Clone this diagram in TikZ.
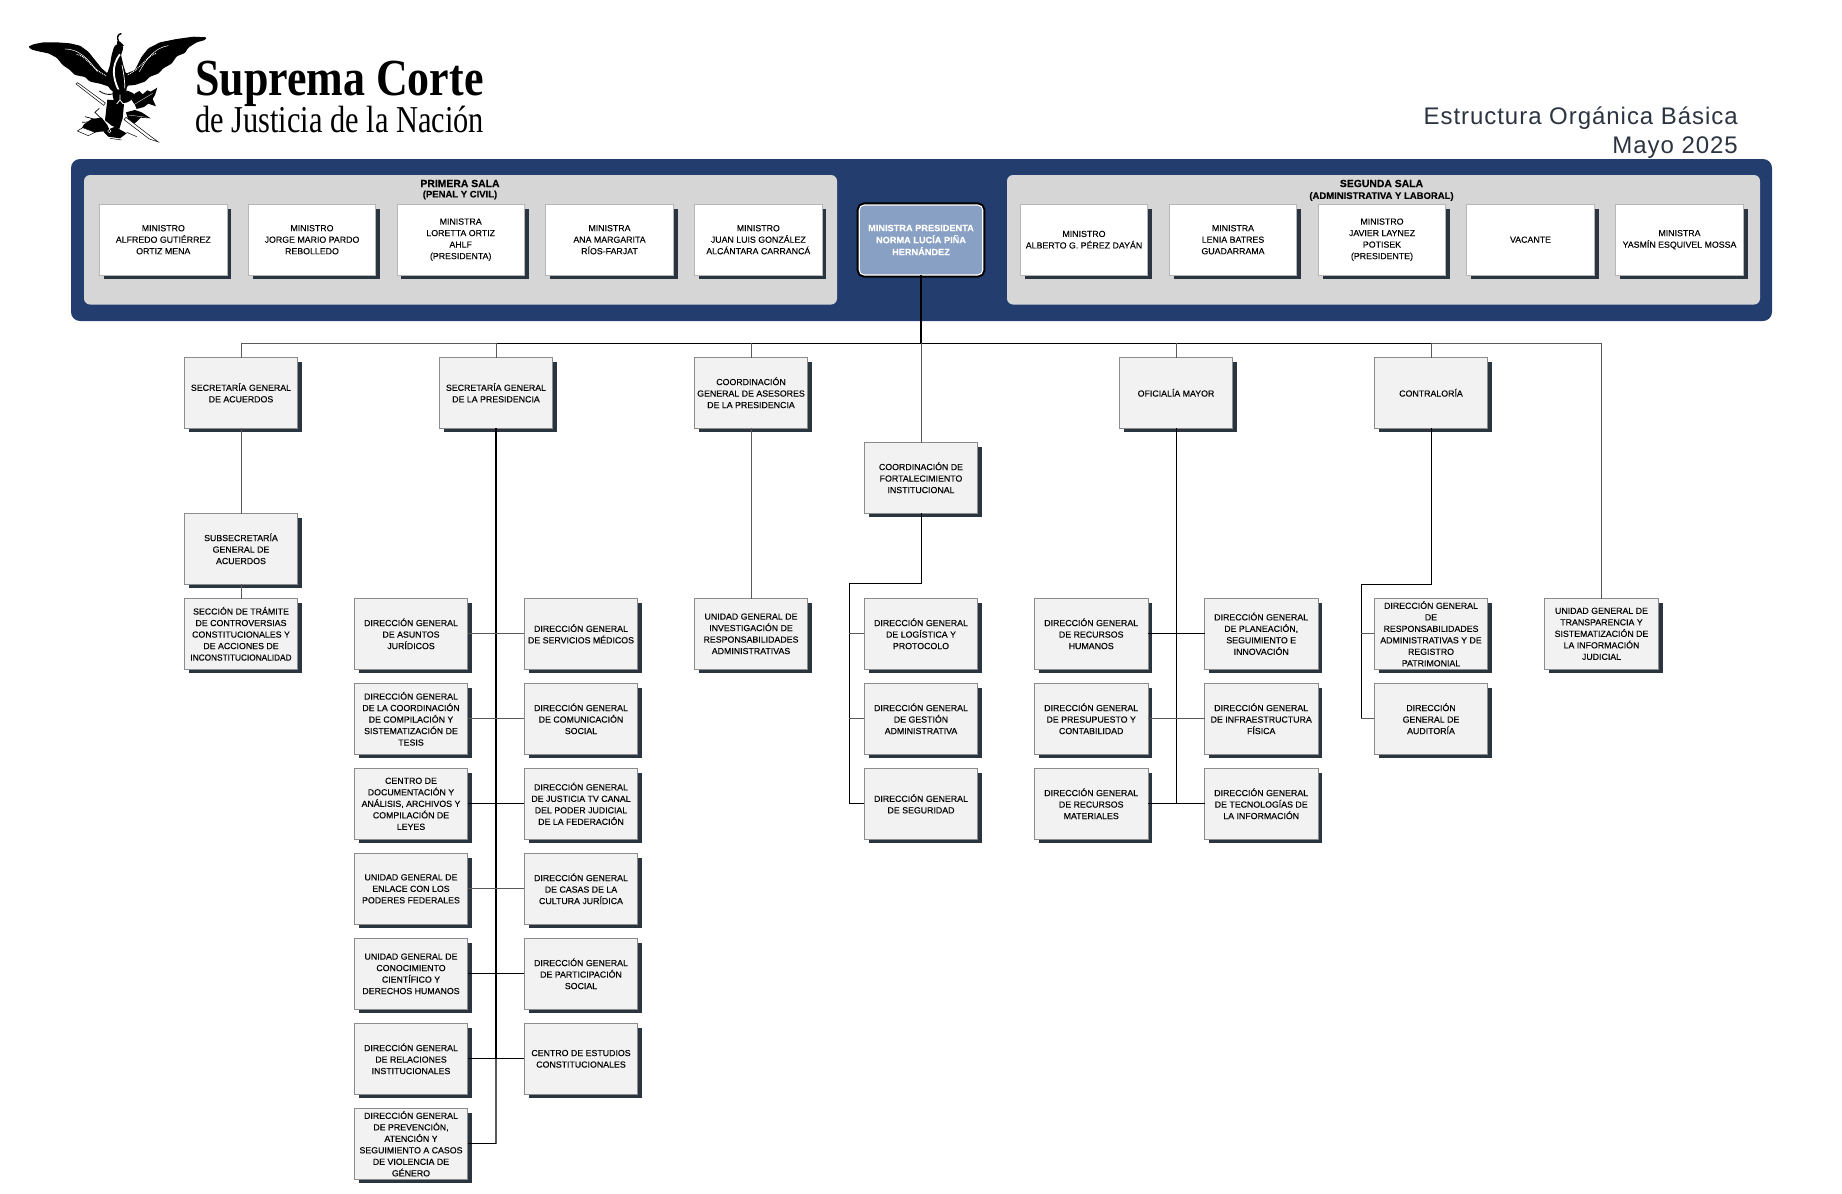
\documentclass[tikz,border=0pt]{standalone}
\usepackage{fontspec}
\usepackage{graphicx}
\setmainfont[FakeBold=0.06]{Liberation Sans}
\newfontfamily\serifbrand{Liberation Serif}
\newfontfamily\headfont[LetterSpace=4]{Liberation Sans}
\usetikzlibrary{shadows}
\definecolor{navy}{HTML}{243D6F}
\definecolor{panel}{HTML}{D6D6D6}
\definecolor{boxfill}{HTML}{F2F2F2}
\definecolor{boxline}{HTML}{8C8C8C}
\definecolor{shadowc}{HTML}{2A3540}
\definecolor{presfill}{HTML}{87A0C4}
\definecolor{headc}{HTML}{2B3440}
\definecolor{lnk}{HTML}{5A5A5A}
\tikzset{
  x=1pt,y=-1pt,
  lbl/.style={align=center,font=\fontsize{8.8}{11.5}\selectfont,text=black,inner sep=0pt,outer sep=0pt},
  orgbox/.style={lbl,rectangle,draw=boxline,line width=.8pt,fill=boxfill,minimum width=113.4pt,minimum height=70.4pt,
    general shadow={shadow xshift=4.3pt,shadow yshift=-4.3pt,fill=shadowc}},
  minbox/.style={orgbox,fill=white,draw=panel!85!black,minimum width=127.4pt},
  presbox/.style={align=center,font=\fontsize{9.2}{12}\selectfont\bfseries,text=white,rectangle,rounded corners=5pt,
    fill=presfill,draw=white,line width=1.1pt,minimum width=123.5pt,minimum height=70pt,inner sep=0pt,outer sep=0pt,
    preaction={draw=black,line width=5.2pt}},
  salatitle/.style={align=center,inner sep=0pt,font=\fontsize{10.4}{12}\selectfont\bfseries},
  salasub/.style={align=center,inner sep=0pt,font=\fontsize{9.5}{11}\selectfont\bfseries},
  thinlink/.style={draw=lnk,line width=1pt},
  darklink/.style={draw=black,line width=1pt},
  trunklink/.style={draw=black,line width=1.7pt},
}
\begin{document}
\begin{tikzpicture}
\useasboundingbox (0,0) rectangle (1842,1194);
% --- eagle
\begin{scope}[shift={(20,25)},x=.3333pt,y=-.3333pt]
 \fill[black,rounded corners=1pt] (25,65) -- (40,58) -- (70,52) -- (110,52) -- (150,55) -- (180,62) -- (205,80) -- (225,105) -- (245,130) -- (262,145) -- (270,120) -- (275,90) -- (282,66) -- (290,58) -- (306,58) -- (310,70) -- (303,90) -- (310,120) -- (318,146) -- (345,135) -- (365,95) -- (385,70) -- (420,52) -- (470,42) -- (520,35) -- (560,37) -- (555,45) -- (530,52) -- (505,68) -- (495,84) -- (470,94) -- (455,116) -- (430,130) -- (415,146) -- (390,155) -- (375,170) -- (345,180) -- (322,182) -- (318,200) -- (290,205) -- (272,195) -- (265,184) -- (240,176) -- (210,170) -- (195,156) -- (165,150) -- (150,135) -- (128,120) -- (110,98) -- (85,85) -- (60,80) -- (35,74) -- cycle;
 \draw[line width=1.4pt,line cap=round] (296,50) .. controls (290,38) and (293,28) .. (303,26);
 \fill (292,48) -- (300,50) -- (312,62) -- (290,66) -- cycle;
 \draw[white,line width=1.8pt] (300,88) .. controls (272,125) and (280,160) .. (296,196);
 \draw[white,line width=.7pt] (306,120) .. controls (312,150) and (315,170) .. (314,190);
 \draw[white,line width=1.1pt,dash pattern=on .9pt off 1pt] (170,88) .. controls (200,92) and (212,130) .. (258,152);
 \draw[white,line width=1.1pt,dash pattern=on .9pt off 1pt] (408,85) .. controls (380,92) and (365,130) .. (322,150);
 \draw[white,line width=.5pt] (135,72) .. controls (175,72) and (205,100) .. (232,140);
 \draw[white,line width=.5pt] (445,62) .. controls (405,68) and (380,100) .. (358,140);
 \draw[line width=.5pt,fill=white] (168,177) -- (173,173) -- (256,234) -- (251,241) -- cycle;
 \draw[line width=.8pt] (238,198) .. controls (262,215) and (285,208) .. (296,198);
 \fill plot[smooth cycle,tension=.5] coordinates {(280,195)(325,198)(345,212)(322,232)(285,232)};
 \fill (335,225) -- (345,205) -- (358,198) -- (368,208) -- (382,196) -- (392,200) -- (412,188) -- (405,210) -- (398,222) -- (408,244) -- (385,236) -- (372,246) -- (350,252) -- (345,240) -- cycle;
 \draw[white,line width=.3pt] (340,240) -- (398,205);
 \fill (262,224) -- (292,226) -- (312,238) -- (308,280) -- (298,312) -- (275,302) -- (255,286) -- cycle;
 \draw[white,line width=.8pt] (300,209) -- (300,225) (300,225) -- (290,237) (300,225) -- (310,237);
 \fill (318,262) -- (345,255) -- (365,262) -- (392,280) -- (362,278) -- (350,290) -- (335,302) -- (325,285) -- cycle;
 \draw[white,line width=.3pt] (325,270) -- (380,277);
 \draw[line width=.5pt,fill=white] (312,284) -- (318,277) -- (392,334) -- (415,351) -- (388,342) -- cycle;
 \fill (180,318) -- (192,298) -- (215,282) -- (245,278) -- (262,300) -- (270,318) -- (240,320) -- (210,325) -- cycle;
 \draw[line width=.7pt] (245,282) -- (225,262) -- (238,250) (232,285) -- (195,275) (222,290) -- (186,292);
 \draw[line width=.5pt,fill=white] (172,318) -- (188,308) -- (225,322) -- (205,332) -- cycle;
 \fill (250,320) -- (285,305) -- (320,325) -- (300,340) -- (265,335) -- cycle;
 \draw[white,line width=.4pt] (268,318) circle (5);
 \draw[line width=.5pt] (270,340) -- (305,345) (320,322) -- (350,335);
\end{scope}
% --- brand
\node[anchor=base west,inner sep=0pt,font=\fontsize{52}{52}\serifbrand\bfseries] (brandA) at (195,95) {\scalebox{.845}[1]{Suprema Corte}};
\node[anchor=base west,inner sep=0pt,font=\fontsize{38}{38}\serifbrand] (brandB) at (195,132) {\scalebox{.80}[1]{de Justicia de la Nación}};
\node[anchor=base east,inner sep=0pt,text=headc,font=\fontsize{24}{24}\headfont] (headA) at (1738,124) {Estructura Orgánica Básica};
\node[anchor=base east,inner sep=0pt,text=headc,font=\fontsize{24}{24}\headfont] (headB) at (1738,153) {Mayo 2025};
% --- band
\fill[navy,rounded corners=9pt] (71,159) rectangle (1772,321);
\fill[panel,rounded corners=6pt] (84,175) rectangle (837,304.5);
\fill[panel,rounded corners=6pt] (1007,175) rectangle (1760,304.5);
\node[salatitle] (salaA) at (460,183.5) {PRIMERA SALA};
\node[salasub] (salaAs) at (460,195) {(PENAL Y CIVIL)};
\node[salatitle] (salaB) at (1381.5,183.5) {SEGUNDA SALA};
\node[salasub] (salaBs) at (1381.5,196.5) {(ADMINISTRATIVA Y LABORAL)};
\node[minbox] (m1) at (163.3,239.7) {MINISTRO\\ALFREDO GUTIÉRREZ\\ORTIZ MENA};
\node[minbox] (m2) at (312,239.7) {MINISTRO\\JORGE MARIO PARDO\\REBOLLEDO};
\node[minbox] (m3) at (460.7,239.7) {MINISTRA\\LORETTA ORTIZ\\AHLF\\(PRESIDENTA)};
\node[minbox] (m4) at (609.5,239.7) {MINISTRA\\ANA MARGARITA\\RÍOS-FARJAT};
\node[minbox] (m5) at (758.3,239.7) {MINISTRO\\JUAN LUIS GONZÁLEZ\\ALCÁNTARA CARRANCÁ};
\node[presbox] (pres) at (921,240) {MINISTRA PRESIDENTA\\NORMA LUCÍA PIÑA\\HERNÁNDEZ};
\node[minbox] (m6) at (1084,239.7) {MINISTRO\\ALBERTO G. PÉREZ DAYÁN};
\node[minbox] (m7) at (1233,239.7) {MINISTRA\\LENIA BATRES\\GUADARRAMA};
\node[minbox] (m8) at (1382,239.7) {MINISTRO\\JAVIER LAYNEZ\\POTISEK\\(PRESIDENTE)};
\node[minbox] (m9) at (1530.5,239.7) {VACANTE};
\node[minbox] (m10) at (1679.5,239.7) {MINISTRA\\YASMÍN ESQUIVEL MOSSA};
% --- row 1
\node[orgbox] (sga) at (241,392.8) {SECRETARÍA GENERAL\\DE ACUERDOS};
\node[orgbox] (sp) at (496,392.8) {SECRETARÍA GENERAL\\DE LA PRESIDENCIA};
\node[orgbox] (cg) at (751,392.8) {COORDINACIÓN\\GENERAL DE ASESORES\\DE LA PRESIDENCIA};
\node[orgbox] (of) at (1176,392.8) {OFICIALÍA MAYOR};
\node[orgbox] (con) at (1431,392.8) {CONTRALORÍA};
\node[orgbox] (cf) at (921,477.8) {COORDINACIÓN DE\\FORTALECIMIENTO\\INSTITUCIONAL};
\node[orgbox] (sub) at (241,548.8) {SUBSECRETARÍA\\GENERAL DE\\ACUERDOS};
\node[orgbox] (sec) at (241,633.8) {SECCIÓN DE TRÁMITE\\DE CONTROVERSIAS\\CONSTITUCIONALES Y\\DE ACCIONES DE\\\scalebox{.94}[1]{INCONSTITUCIONALIDAD}};
% --- presidencia, left column
\node[orgbox] (a1) at (411,633.8) {DIRECCIÓN GENERAL\\DE ASUNTOS\\JURÍDICOS};
\node[orgbox] (a2) at (411,718.8) {DIRECCIÓN GENERAL\\DE LA COORDINACIÓN\\DE COMPILACIÓN Y\\SISTEMATIZACIÓN DE\\TESIS};
\node[orgbox] (a3) at (411,803.8) {CENTRO DE\\DOCUMENTACIÓN Y\\ANÁLISIS, ARCHIVOS Y\\COMPILACIÓN DE\\LEYES};
\node[orgbox] (a4) at (411,888.8) {UNIDAD GENERAL DE\\ENLACE CON LOS\\PODERES FEDERALES};
\node[orgbox] (a5) at (411,973.8) {UNIDAD GENERAL DE\\CONOCIMIENTO\\CIENTÍFICO Y\\DERECHOS HUMANOS};
\node[orgbox] (a6) at (411,1058.8) {DIRECCIÓN GENERAL\\DE RELACIONES\\INSTITUCIONALES};
\node[orgbox] (a7) at (411,1143.8) {DIRECCIÓN GENERAL\\DE PREVENCIÓN,\\ATENCIÓN Y\\SEGUIMIENTO A CASOS\\DE VIOLENCIA DE\\GÉNERO};
% --- presidencia, right column
\node[orgbox] (b1) at (581,633.8) {DIRECCIÓN GENERAL\\DE SERVICIOS MÉDICOS};
\node[orgbox] (b2) at (581,718.8) {DIRECCIÓN GENERAL\\DE COMUNICACIÓN\\SOCIAL};
\node[orgbox] (b3) at (581,803.8) {DIRECCIÓN GENERAL\\DE JUSTICIA TV CANAL\\DEL PODER JUDICIAL\\DE LA FEDERACIÓN};
\node[orgbox] (b4) at (581,888.8) {DIRECCIÓN GENERAL\\DE CASAS DE LA\\CULTURA JURÍDICA};
\node[orgbox] (b5) at (581,973.8) {DIRECCIÓN GENERAL\\DE PARTICIPACIÓN\\SOCIAL};
\node[orgbox] (b6) at (581,1058.8) {CENTRO DE ESTUDIOS\\CONSTITUCIONALES};
% --- other columns
\node[orgbox] (ugi) at (751,633.8) {UNIDAD GENERAL DE\\INVESTIGACIÓN DE\\RESPONSABILIDADES\\ADMINISTRATIVAS};
\node[orgbox] (f1) at (921,633.8) {DIRECCIÓN GENERAL\\DE LOGÍSTICA Y\\PROTOCOLO};
\node[orgbox] (f2) at (921,718.8) {DIRECCIÓN GENERAL\\DE GESTIÓN\\ADMINISTRATIVA};
\node[orgbox] (f3) at (921,803.8) {DIRECCIÓN GENERAL\\DE SEGURIDAD};
\node[orgbox] (c1) at (1091.2,633.8) {DIRECCIÓN GENERAL\\DE RECURSOS\\HUMANOS};
\node[orgbox] (c2) at (1091.2,718.8) {DIRECCIÓN GENERAL\\DE PRESUPUESTO Y\\CONTABILIDAD};
\node[orgbox] (c3) at (1091.2,803.8) {DIRECCIÓN GENERAL\\DE RECURSOS\\MATERIALES};
\node[orgbox] (d1) at (1261.2,633.8) {DIRECCIÓN GENERAL\\DE PLANEACIÓN,\\SEGUIMIENTO E\\INNOVACIÓN};
\node[orgbox] (d2) at (1261.2,718.8) {DIRECCIÓN GENERAL\\DE INFRAESTRUCTURA\\FÍSICA};
\node[orgbox] (d3) at (1261.2,803.8) {DIRECCIÓN GENERAL\\DE TECNOLOGÍAS DE\\LA INFORMACIÓN};
\node[orgbox] (e1) at (1431,633.8) {DIRECCIÓN GENERAL\\DE\\RESPONSABILIDADES\\ADMINISTRATIVAS Y DE\\REGISTRO\\PATRIMONIAL};
\node[orgbox] (e2) at (1431,718.8) {DIRECCIÓN\\GENERAL DE\\AUDITORÍA};
\node[orgbox] (ut) at (1601.5,633.8) {UNIDAD GENERAL DE\\TRANSPARENCIA Y\\SISTEMATIZACIÓN DE\\LA INFORMACIÓN\\JUDICIAL};
% --- connectors
\coordinate (bus) at (921,343.3);
\coordinate (fkA) at (921,583.5);
\coordinate (fkB) at (849,583.5);
\coordinate (ekA) at (1431,584);
\coordinate (ekB) at (1361,584);
\draw[thinlink] (sga.north) |- (sp.north |- bus);
\draw[thinlink] (ut.north) |- (con.north |- bus);
\draw[darklink] (sp.north |- bus) -- (con.north |- bus);
\draw[trunklink] (pres.south) -- (bus);
\draw[thinlink] (sp.north |- bus) -- (sp.north);
\draw[thinlink] (cg.north |- bus) -- (cg.north);
\draw[thinlink] (bus) -- (cf.north);
\draw[thinlink] (of.north |- bus) -- (of.north);
\draw[thinlink] (con.north |- bus) -- (con.north);
\draw[thinlink] (sga.south) -- (sub.north);
\draw[thinlink] (sub.south) -- (sec.north);
\draw[thinlink] (cg.south) -- (ugi.north);
\draw[trunklink] (sp.south) -- (sp.south |- a6.east);
\draw[thinlink,line width=1.4pt] (sp.south |- a6.east) -- (sp.south |- a7.east);
\draw[thinlink] (a1.east) -- (b1.west);
\draw[thinlink] (a2.east) -- (b2.west);
\draw[darklink] (a3.east) -- (b3.west);
\draw[thinlink] (a4.east) -- (b4.west);
\draw[darklink] (a5.east) -- (b5.west);
\draw[darklink] (a6.east) -- (b6.west);
\draw[darklink] (a7.east) -- (sp.south |- a7.east);
\draw[darklink] (cf.south) -- (fkA) -- (fkB) -- (fkB |- f3.west) -- (f3.west);
\draw[thinlink] (fkB |- f1.west) -- (f1.west);
\draw[thinlink] (fkB |- f2.west) -- (f2.west);
\draw[darklink] (of.south) -- (of.south |- c3.east);
\draw[darklink] (c1.east) -- (d1.west);
\draw[thinlink] (c2.east) -- (d2.west);
\draw[darklink] (c3.east) -- (d3.west);
\draw[darklink] (con.south) -- (ekA) -- (ekB) -- (ekB |- e2.west);
\draw[thinlink] (ekB |- e1.west) -- (e1.west);
\draw[thinlink] (ekB |- e2.west) -- (e2.west);
\end{tikzpicture}
\end{document}
